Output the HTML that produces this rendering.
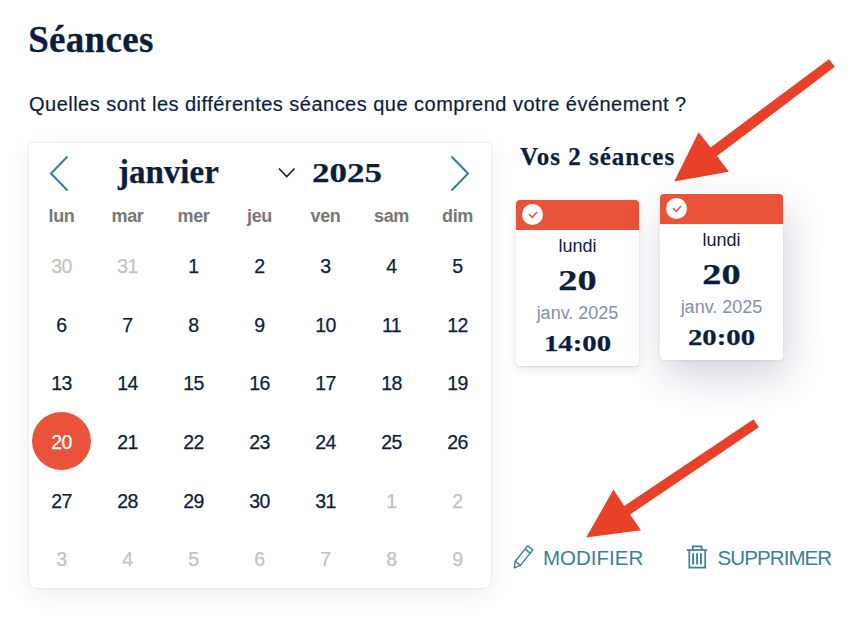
<!DOCTYPE html>
<html><head><meta charset="utf-8">
<style>
html,body{margin:0;padding:0;background:#fff;width:860px;height:626px;overflow:hidden;position:relative}
body{font-family:"Liberation Sans",sans-serif;color:#0d1e3d}
.a{position:absolute;white-space:nowrap;line-height:1}
.serif{font-family:"Liberation Serif",serif;font-weight:700;-webkit-text-stroke:0.25px currentColor}
#title{left:28.2px;top:21px;font-size:37px;letter-spacing:0.3px;-webkit-text-stroke:0.3px #0d1e3d}
#sub{left:29px;top:94px;font-size:20px;letter-spacing:0.48px;-webkit-text-stroke:0.2px #0d1e3d}
#cal{position:absolute;left:28.5px;top:142.5px;width:462px;height:445px;background:#fff;border-radius:2px 2px 8px 8px;box-shadow:0 0 2px rgba(0,0,0,0.16),0 6px 28px rgba(0,0,0,0.075)}
.hd{position:absolute;top:207px;width:66px;text-align:center;font-size:18px;font-weight:700;color:#777;line-height:1;letter-spacing:-0.4px}
.d{position:absolute;width:66px;text-align:center;font-size:19.5px;color:#0d1e3d;line-height:1;-webkit-text-stroke:0.25px currentColor;letter-spacing:-0.5px}
.d.g{color:#c3c3c3}.d.w{color:#fff}.r0{top:257.20px}.r1{top:315.84px}.r2{top:374.48px}.r3{top:433.12px}.r4{top:491.76px}.r5{top:550.40px}
#sel{position:absolute;left:32px;top:412px;width:59px;height:58px;border-radius:50%;background:#e8533a}
.card{position:absolute;width:123px;height:166px;background:#fff;border-radius:4px;box-shadow:0 1px 3px rgba(40,50,90,0.10),0 6px 16px rgba(40,50,90,0.13)}
.ch{position:absolute;left:0;top:0;width:123px;height:30px;background:#e8533a;border-radius:4px 4px 0 0}
.cc{position:absolute;left:6px;top:4px;width:21px;height:21px;border-radius:50%;background:#fff}
.ct{position:absolute;left:0;width:123px;text-align:center;line-height:1;white-space:nowrap}
.btn{position:absolute;color:#3a8197;font-size:20.5px;line-height:1;white-space:nowrap}
</style></head>
<body>
<div id="title" class="a serif">Séances</div>
<div id="sub" class="a">Quelles sont les différentes séances que comprend votre événement ?</div>

<div id="cal"></div>
<svg style="position:absolute;left:0;top:0" width="860" height="626">
  <polyline points="67.5,156.5 51,173.5 67.5,190.5" fill="none" stroke="#327f98" stroke-width="2"/>
  <polyline points="451.5,156.5 468,173.5 451.5,190.5" fill="none" stroke="#327f98" stroke-width="2"/>
  <polyline points="279,168.5 286.7,176.5 294.5,168.5" fill="none" stroke="#0d1e3d" stroke-width="1.6"/>
</svg>
<div class="a serif" style="left:118px;top:156px;font-size:33px">janvier</div>
<div class="a serif" style="left:312px;top:159px;font-size:28px;transform:scaleX(1.25);transform-origin:0 0">2025</div>

<div class="hd" style="left:28.5px">lun</div>
<div class="hd" style="left:94.5px">mar</div>
<div class="hd" style="left:160.5px">mer</div>
<div class="hd" style="left:226.5px">jeu</div>
<div class="hd" style="left:292.5px">ven</div>
<div class="hd" style="left:358.5px">sam</div>
<div class="hd" style="left:424.5px">dim</div>

<div id="sel"></div>
<div id="days">
<div class="d g r0" style="left:28.5px">30</div>
<div class="d g r0" style="left:94.5px">31</div>
<div class="d r0" style="left:160.5px">1</div>
<div class="d r0" style="left:226.5px">2</div>
<div class="d r0" style="left:292.5px">3</div>
<div class="d r0" style="left:358.5px">4</div>
<div class="d r0" style="left:424.5px">5</div>
<div class="d r1" style="left:28.5px">6</div>
<div class="d r1" style="left:94.5px">7</div>
<div class="d r1" style="left:160.5px">8</div>
<div class="d r1" style="left:226.5px">9</div>
<div class="d r1" style="left:292.5px">10</div>
<div class="d r1" style="left:358.5px">11</div>
<div class="d r1" style="left:424.5px">12</div>
<div class="d r2" style="left:28.5px">13</div>
<div class="d r2" style="left:94.5px">14</div>
<div class="d r2" style="left:160.5px">15</div>
<div class="d r2" style="left:226.5px">16</div>
<div class="d r2" style="left:292.5px">17</div>
<div class="d r2" style="left:358.5px">18</div>
<div class="d r2" style="left:424.5px">19</div>
<div class="d w r3" style="left:28.5px">20</div>
<div class="d r3" style="left:94.5px">21</div>
<div class="d r3" style="left:160.5px">22</div>
<div class="d r3" style="left:226.5px">23</div>
<div class="d r3" style="left:292.5px">24</div>
<div class="d r3" style="left:358.5px">25</div>
<div class="d r3" style="left:424.5px">26</div>
<div class="d r4" style="left:28.5px">27</div>
<div class="d r4" style="left:94.5px">28</div>
<div class="d r4" style="left:160.5px">29</div>
<div class="d r4" style="left:226.5px">30</div>
<div class="d r4" style="left:292.5px">31</div>
<div class="d g r4" style="left:358.5px">1</div>
<div class="d g r4" style="left:424.5px">2</div>
<div class="d g r5" style="left:28.5px">3</div>
<div class="d g r5" style="left:94.5px">4</div>
<div class="d g r5" style="left:160.5px">5</div>
<div class="d g r5" style="left:226.5px">6</div>
<div class="d g r5" style="left:292.5px">7</div>
<div class="d g r5" style="left:358.5px">8</div>
<div class="d g r5" style="left:424.5px">9</div>
</div>

<div class="a serif" style="left:520px;top:143.5px;font-size:25px;letter-spacing:1px">Vos 2 séances</div>

<div class="card" style="left:516px;top:200px;box-shadow:0 1px 2px rgba(30,40,80,.10),0 4px 10px rgba(30,40,80,.10)">
  <div class="ch"><div class="cc"></div>
    <svg style="position:absolute;left:0;top:0" width="40" height="30"><polyline points="13,14.2 16.2,17.4 21,12" fill="none" stroke="#e8533a" stroke-width="1.5"/></svg>
  </div>
  <div class="ct" style="top:37px;font-size:18px">lundi</div>
  <div class="ct serif" style="top:66px;font-size:29px;transform:scaleX(1.32)">20</div>
  <div class="ct" style="top:104px;font-size:18px;color:#8391a8">janv. 2025</div>
  <div class="ct serif" style="top:131.5px;font-size:23px;transform:scaleX(1.25)">14:00</div>
</div>
<div class="card" style="left:660px;top:194px;box-shadow:0 1px 3px rgba(30,40,80,.08),4px 16px 40px rgba(30,40,80,.2)">
  <div class="ch"><div class="cc"></div>
    <svg style="position:absolute;left:0;top:0" width="40" height="30"><polyline points="13,14.2 16.2,17.4 21,12" fill="none" stroke="#e8533a" stroke-width="1.5"/></svg>
  </div>
  <div class="ct" style="top:37px;font-size:18px">lundi</div>
  <div class="ct serif" style="top:66px;font-size:29px;transform:scaleX(1.32)">20</div>
  <div class="ct" style="top:104px;font-size:18px;color:#8391a8">janv. 2025</div>
  <div class="ct serif" style="top:131.5px;font-size:23px;transform:scaleX(1.25)">20:00</div>
</div>

<svg style="position:absolute;left:0;top:0" width="860" height="626">
  <!-- pencil -->
  <g fill="none" stroke="#3a8197" stroke-width="1.45" stroke-linejoin="round" stroke-linecap="round">
    <path d="M515.3,561.3 L527.6,545.9 L532.8,549.9 L520.4,565.4 Z"/>
    <path d="M525.1,549.1 L530.2,553.1"/>
    <path d="M515.3,561.3 L514.2,567.9 L520.4,565.4"/>
  </g>
  <!-- trash -->
  <g fill="none" stroke="#3a8197" stroke-width="1.7">
    <path d="M686.8,550 H707.2"/>
    <path d="M692.8,550 V546.4 H701.6 V550"/>
    <path d="M689.3,550 V567.6 H705.2 V550"/>
  </g>
  <g fill="none" stroke="#3a8197" stroke-width="1.9">
    <path d="M693.1,553.3 V564.5 M697.1,553.3 V564.5 M700.9,553.3 V564.5"/>
  </g>
  <!-- arrows -->
  <polygon fill="#e8412a" points="828.9,59.2 834.9,66.8 717,156 728.8,171.7 674.2,181.5 698.6,132.3 710.6,147.4"/>
  <polygon fill="#e8412a" points="753.5,419.2 758.9,427.2 630.1,514.5 641,530.3 586.2,537.6 613.4,489.5 624.2,506"/>
</svg>
<div class="btn" style="left:543px;top:548px">MODIFIER</div>
<div class="btn" style="left:717.5px;top:548px;letter-spacing:-0.9px">SUPPRIMER</div>


</body></html>
